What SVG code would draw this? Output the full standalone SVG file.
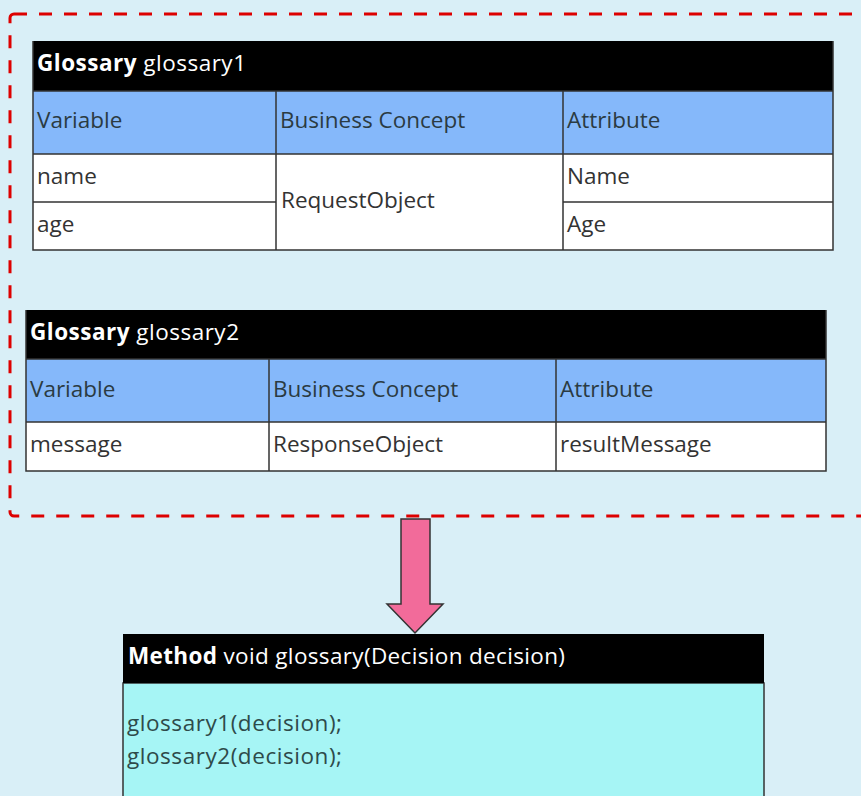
<svg xmlns="http://www.w3.org/2000/svg" width="861" height="796" viewBox="0 0 861 796">
<style>
text{font-family:"Open Sans","DejaVu Sans",sans-serif;font-size:22.5px;fill:#333}
.hdr{fill:#000}
.hb{fill:#85b8fa}
.cell{fill:#fff}
.ln{stroke:#333;stroke-width:1.5;fill:none}
.ht{fill:#fff}
.b{font-weight:bold}
.ct{fill:#2b3b42}
.mt{fill:#2e4a4a}
</style>
<rect x="0" y="0" width="861" height="796" fill="#d9eff7"/>
<g id="group">
<rect x="10" y="14" width="870" height="502" rx="4" fill="none" stroke="#dd0000" stroke-width="3" stroke-dasharray="13 12"/>
</g>
<g id="glossary1">
<rect class="hdr" x="33" y="41" width="800" height="50"/>
<rect class="hb" x="33" y="91" width="800" height="63"/>
<rect class="cell" x="33" y="154" width="800" height="96"/>
<path class="ln" d="M33,91H833M33,154H833M33,202H276M563,202H833M276,91V250M563,91V250M33,41V250H833V41"/>
<text class="ht" x="37" y="71" textLength="209" lengthAdjust="spacing"><tspan class="b">Glossary</tspan> glossary1</text>
<text class="ct" x="37" y="128">Variable</text>
<text class="ct" x="280" y="128">Business Concept</text>
<text class="ct" x="567" y="128">Attribute</text>
<text x="37" y="184">name</text>
<text x="37" y="232">age</text>
<text x="281" y="208">RequestObject</text>
<text x="567" y="184">Name</text>
<text x="567" y="232">Age</text>
</g>
<g id="glossary2">
<rect class="hdr" x="26" y="310" width="800" height="49"/>
<rect class="hb" x="26" y="359" width="800" height="63"/>
<rect class="cell" x="26" y="422" width="800" height="49"/>
<path class="ln" d="M26,359H826M26,422H826M269,359V471M556,359V471M26,310V471H826V310"/>
<text class="ht" x="30" y="340" textLength="209" lengthAdjust="spacing"><tspan class="b">Glossary</tspan> glossary2</text>
<text class="ct" x="30" y="397">Variable</text>
<text class="ct" x="273" y="397">Business Concept</text>
<text class="ct" x="560" y="397">Attribute</text>
<text x="30" y="452">message</text>
<text x="273" y="452">ResponseObject</text>
<text x="560" y="452">resultMessage</text>
</g>
<g id="connectors">
<path d="M401,519H430V604H443L415,633L387,604H401Z" fill="#f26b9a" stroke="#333" stroke-width="1.5" stroke-linejoin="miter"/>
</g>
<g id="method">
<rect x="123" y="683" width="641" height="120" fill="#a6f5f5" stroke="#333" stroke-width="1.5"/>
<rect class="hdr" x="123" y="634" width="641" height="49"/>
<text class="ht" x="128" y="664" textLength="437" lengthAdjust="spacing"><tspan class="b">Method</tspan> void glossary(Decision decision)</text>
<text class="mt" x="127" y="731" textLength="215" lengthAdjust="spacing">glossary1(decision);</text>
<text class="mt" x="127" y="764" textLength="215" lengthAdjust="spacing">glossary2(decision);</text>
</g>
</svg>
